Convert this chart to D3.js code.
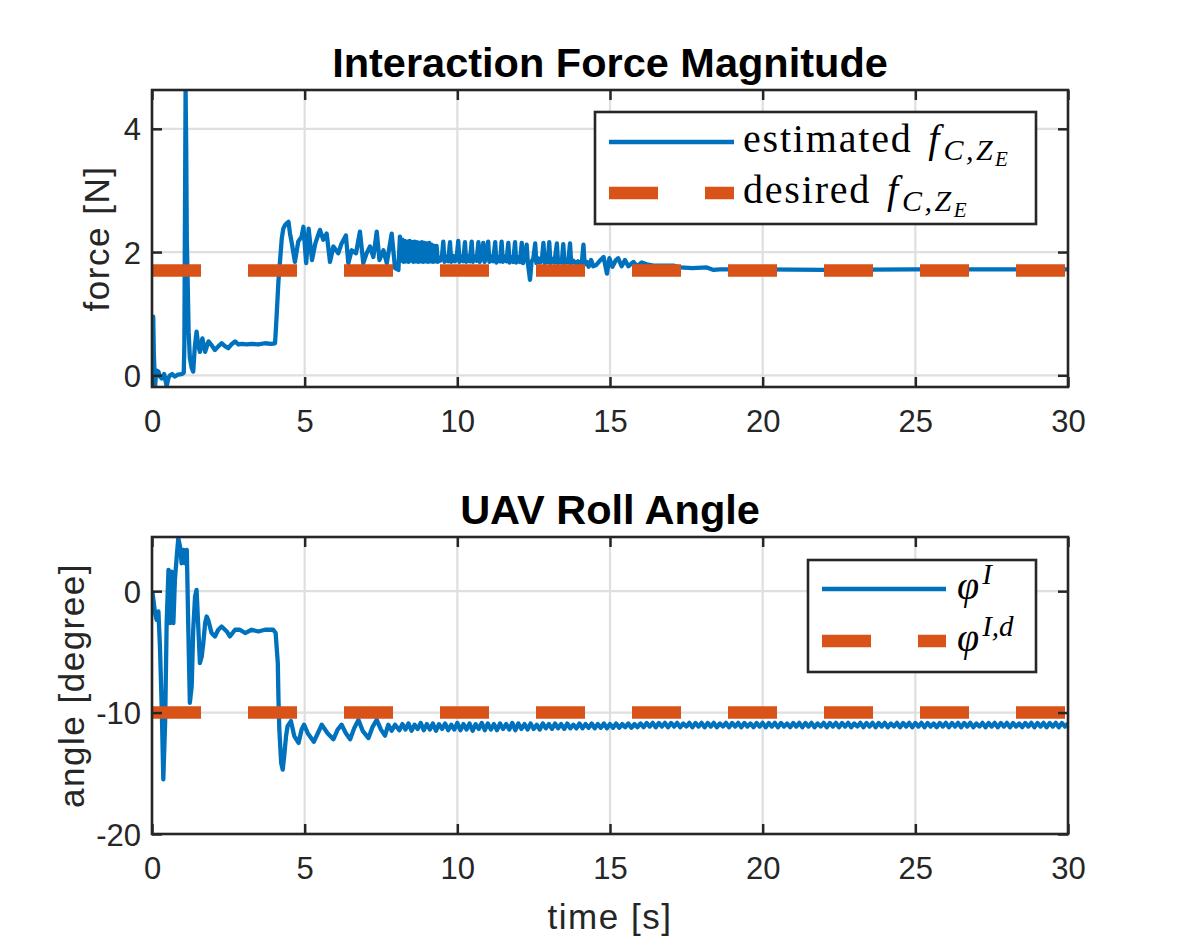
<!DOCTYPE html>
<html>
<head>
<meta charset="utf-8">
<script src="https://cdn.jsdelivr.net/npm/d3@7"></script>
<style>
  body { margin: 0; background: #fff; }
  svg { display: block; }
</style>
</head>
<body>
<svg id="fig" width="1181" height="945"></svg>
<script>
// ---- data -----------------------------------------------------------
const timeDomain = [0, 30];
const timeTicks  = [0, 5, 10, 15, 20, 25, 30];

// top panel: interaction force [N]
const forceDomain  = [-0.19, 4.63];
const forceTicks   = [0, 2, 4];
const forceDesired = 1.7;
const forceEstimated = [
  [0.00,0.17],[0.04,0.95],[0.06,0.35],[0.10,-0.18],[0.14,0.08],[0.21,0.06],[0.26,-0.02],[0.32,-0.05],
  [0.40,0.02],[0.48,-0.18],[0.54,-0.04],[0.59,0.0],[0.66,0.02],[0.75,-0.02],[0.85,0.01],[0.97,0.02],
  [1.04,0.04],[1.06,0.5],[1.08,2.6],[1.10,4.65],[1.12,3.7],[1.14,2.2],[1.17,1.47],[1.20,0.7],
  [1.24,0.28],[1.30,0.12],[1.35,0.06],[1.40,0.45],[1.46,0.71],[1.51,0.5],[1.57,0.38],[1.65,0.6],
  [1.74,0.38],[1.85,0.55],[1.95,0.49],[2.06,0.41],[2.17,0.47],[2.28,0.52],[2.40,0.47],[2.50,0.44],
  [2.60,0.5],[2.72,0.55],[2.83,0.5],[2.94,0.51],[3.10,0.5],[3.26,0.51],[3.48,0.5],[3.70,0.52],
  [3.90,0.51],[4.03,0.52],[4.08,0.95],[4.14,1.52],[4.20,1.9],[4.25,2.22],[4.30,2.38],[4.36,2.44],
  [4.42,2.47],[4.47,2.49],[4.52,2.3],[4.58,2.14],[4.68,1.84],[4.79,2.17],[4.90,2.25],[4.96,2.41],
  [5.05,1.82],[5.13,2.38],[5.24,1.87],[5.35,2.14],[5.50,2.36],[5.61,2.2],[5.72,2.3],[5.83,1.84],
  [5.94,2.09],[6.10,1.98],[6.21,2.14],[6.35,2.27],[6.43,1.82],[6.54,2.03],[6.68,1.98],[6.81,2.33],
  [6.92,1.82],[7.03,1.98],[7.14,2.09],[7.25,1.92],[7.36,2.33],[7.45,1.87],[7.58,2.03],[7.69,1.82],
  [7.85,2.30],[7.96,1.74],[8.07,1.71],[8.12,2.25],[8.16,1.86],[8.20,2.2],[8.24,1.84],[8.28,2.18],
  [8.32,1.85],[8.36,2.17],[8.40,1.84],[8.44,2.18],[8.48,1.86],[8.52,2.16],[8.56,1.84],[8.60,2.17],
  [8.64,1.85],[8.68,2.16],[8.72,1.84],[8.76,2.15],[8.80,1.85],[8.84,2.16],[8.88,1.84],[8.92,2.15],
  [8.96,1.85],[9.00,2.14],[9.04,1.84],[9.08,2.15],[9.12,1.85],[9.16,2.12],[9.20,1.84],[9.24,2.1],
  [9.28,1.85],[9.32,2.1],[9.36,1.84],[9.40,1.9],[9.44,1.86],[9.50,1.95],[9.54,2.17],[9.58,1.84],
  [9.64,1.93],[9.70,1.85],[9.76,2.16],[9.80,1.84],[9.86,1.94],[9.92,1.85],[9.98,1.92],[10.03,2.18],
  [10.07,1.84],[10.13,1.93],[10.19,1.85],[10.25,2.16],[10.29,1.84],[10.35,1.94],[10.41,1.85],[10.47,2.17],
  [10.51,1.84],[10.57,1.93],[10.63,1.86],[10.69,2.16],[10.73,1.84],[10.79,1.92],[10.85,2.15],[10.89,1.84],
  [10.95,1.92],[11.01,2.17],[11.05,1.84],[11.11,1.93],[11.17,1.85],[11.24,2.16],[11.28,1.83],[11.34,1.92],
  [11.40,1.85],[11.45,2.17],[11.49,1.84],[11.55,1.93],[11.61,1.85],[11.67,2.15],[11.71,1.83],[11.77,1.92],
  [11.83,1.84],[11.89,2.16],[11.93,1.83],[11.99,1.92],[12.05,1.84],[12.11,2.15],[12.15,1.82],[12.21,1.9],
  [12.27,2.12],[12.31,1.82],[12.38,1.55],[12.43,1.84],[12.49,1.9],[12.55,2.14],[12.59,1.82],[12.65,1.9],
  [12.71,1.83],[12.77,1.88],[12.82,2.15],[12.86,1.82],[12.92,1.9],[12.96,1.84],[13.01,2.16],[13.05,1.82],
  [13.11,1.89],[13.18,1.83],[13.26,2.14],[13.30,1.82],[13.36,1.88],[13.42,1.83],[13.47,2.13],[13.51,1.82],
  [13.57,1.88],[13.63,1.83],[13.69,2.14],[13.73,1.82],[13.80,1.86],[13.88,1.81],[13.95,1.85],[14.02,1.8],
  [14.08,1.84],[14.13,2.12],[14.17,1.8],[14.24,1.84],[14.30,1.76],[14.38,1.87],[14.45,1.77],[14.55,1.79],
  [14.65,1.85],[14.79,1.92],[14.90,1.65],[14.98,1.9],[15.08,1.76],[15.18,1.86],[15.27,1.90],[15.38,1.77],
  [15.49,1.87],[15.60,1.77],[15.77,1.84],[15.88,1.77],[16.04,1.83],[16.20,1.8],[16.42,1.78],[16.75,1.78],
  [17.08,1.78],[17.29,1.75],[17.70,1.74],[18.17,1.75],[18.39,1.71],[18.60,1.72],[20.0,1.72],[22.0,1.71],
  [25.0,1.72],[28.0,1.72],[30.0,1.72]
];

// bottom panel: roll angle [degree]
const rollDomain  = [-20, 4.46];
const rollTicks   = [-20, -10, 0];
const rollDesired = -10;
const rollTransient = [
  [0.01,0.0],[0.05,-0.8],[0.10,-1.81],[0.15,-2.36],[0.21,-1.67],[0.26,-4.54],[0.32,-9.75],[0.37,-15.5],
  [0.43,-10.85],[0.48,-2.63],[0.54,1.75],[0.59,-2.63],[0.64,1.61],[0.70,-2.63],[0.75,0.93],[0.81,2.85],
  [0.86,4.35],[0.92,3.67],[0.97,2.3],[1.03,3.4],[1.08,2.3],[1.14,3.4],[1.19,-3.18],[1.24,-9.2],
  [1.30,-7.84],[1.35,-3.18],[1.41,-0.44],[1.46,0.11],[1.52,-3.18],[1.57,-5.92],[1.63,-5.37],[1.68,-4.27],
  [1.74,-2.63],[1.79,-2.09],[1.84,-2.36],[1.95,-3.45],[2.06,-3.73],[2.17,-3.18],[2.28,-2.91],[2.45,-3.32],
  [2.55,-3.73],[2.72,-3.18],[2.88,-3.18],[3.05,-3.45],[3.26,-3.18],[3.48,-3.32],[3.70,-3.18],[3.97,-3.18],
  [4.05,-3.45],[4.12,-5.92],[4.14,-8.65],[4.17,-11.39],[4.23,-14.13],[4.28,-14.7],[4.33,-13.58],[4.39,-11.94],
  [4.44,-11.12],[4.55,-10.7],[4.66,-11.94],[4.80,-12.5],[4.90,-11.4],[4.98,-11.0],[5.10,-11.7],[5.30,-12.4],
  [5.45,-11.6],[5.56,-11.0],[5.75,-11.7],[5.94,-12.2],[6.08,-11.4],[6.21,-11.0],[6.35,-11.7],[6.49,-12.2],
  [6.62,-11.3],[6.76,-10.6],[6.90,-11.5],[7.09,-12.1],[7.22,-11.2],[7.36,-10.6],[7.50,-11.4],[7.63,-11.9],
  [7.74,-11.0],[7.85,-11.5],[7.96,-11.0]
];
// settled part, one sample every 0.1 s from 8.1 s
const rollTailStart = 8.1;
const rollTailStep  = 0.1;
const rollTail = [
  -11.45,-10.95,-11.4,-10.9,-11.5,-11.0,-11.35,-10.85,-11.45,-10.95,
  -11.4,-10.9,-11.5,-10.95,-11.35,-10.9,-11.45,-11.0,-11.4,-10.85,
  -11.45,-10.95,-11.4,-10.9,-11.5,-10.95,-11.35,-10.85,-11.45,-10.9,
  -11.4,-10.95,-11.45,-10.9,-11.35,-10.95,-11.4,-10.85,-11.45,-10.9,
  -11.35,-10.95,-11.4,-10.9,-11.35,-11.0,-11.4,-10.9,-11.3,-10.95,
  -11.35,-10.9,-11.3,-10.95,-11.35,-10.9,-11.3,-11.0,-11.3,-10.9,
  -11.3,-10.95,-11.25,-10.9,-11.3,-10.95,-11.25,-10.9,-11.3,-10.95,
  -11.25,-10.9,-11.25,-10.95,-11.2,-10.9,-11.25,-10.95,-11.2,-10.9,
  -11.2,-10.85,-11.15,-10.85,-11.2,-10.85,-11.15,-10.85,-11.2,-10.85,
  -11.15,-10.85,-11.2,-10.9,-11.15,-10.85,-11.2,-10.85,-11.15,-10.85,
  -11.2,-10.85,-11.15,-10.85,-11.2,-10.9,-11.15,-10.85,-11.2,-10.85,
  -11.15,-10.85,-11.2,-10.85,-11.15,-10.9,-11.2,-10.85,-11.15,-10.85,
  -11.2,-10.85,-11.15,-10.85,-11.2,-10.85,-11.15,-10.9,-11.2,-10.85,
  -11.15,-10.85,-11.2,-10.85,-11.15,-10.85,-11.2,-10.9,-11.15,-10.85,
  -11.2,-10.85,-11.15,-10.85,-11.2,-10.85,-11.15,-10.85,-11.2,-10.9,
  -11.15,-10.85,-11.2,-10.85,-11.15,-10.85,-11.2,-10.85,-11.15,-10.85,
  -11.2,-10.9,-11.15,-10.85,-11.2,-10.85,-11.15,-10.85,-11.2,-10.85,
  -11.15,-10.85,-11.2,-10.85,-11.15,-10.9,-11.2,-10.85,-11.15,-10.85,
  -11.2,-10.85,-11.15,-10.85,-11.2,-10.85,-11.15,-10.85,-11.2,-10.9,
  -11.15,-10.85,-11.2,-10.85,-11.15,-10.85,-11.2,-10.85,-11.15,-10.85,
  -11.2,-10.85,-11.15,-10.9,-11.2,-10.85,-11.15,-10.85,-11.2,-10.85,
  -11.15,-10.85,-11.2,-10.85,-11.15,-10.85,-11.2,-10.85,-11.15,-10.9
];
const rollMeasured = rollTransient.concat(rollTail.map((v, i) => [rollTailStart + i * rollTailStep, v]));

// ---- look ------------------------------------------------------------
const BLUE = "#0072BD", ORANGE = "#D95319", INK = "#262626", GRID = "#dfdfdf";
const SANS = "'Liberation Sans', Arial, sans-serif";
const SERIF = "'Liberation Serif', 'Times New Roman', serif";
const left = 152, right = 1068;

const svg = d3.select("#fig");

function panel({ top, bottom, yDomain, yTicks, title, titleY, ylabel, ylabelX, series, desired, id }) {
  const x = d3.scaleLinear().domain(timeDomain).range([left, right]);
  const y = d3.scaleLinear().domain(yDomain).range([bottom, top]);
  const g = svg.append("g");

  // grid
  g.append("g").selectAll("line").data(timeTicks).join("line")
    .attr("x1", d => x(d)).attr("x2", d => x(d)).attr("y1", top).attr("y2", bottom)
    .attr("stroke", GRID).attr("stroke-width", 2.2);
  g.append("g").selectAll("line").data(yTicks).join("line")
    .attr("x1", left).attr("x2", right).attr("y1", d => y(d)).attr("y2", d => y(d))
    .attr("stroke", GRID).attr("stroke-width", 2.2);

  // data, clipped to the axes box
  g.append("clipPath").attr("id", id).append("rect")
    .attr("x", left).attr("y", top).attr("width", right - left).attr("height", bottom - top);
  const plot = g.append("g").attr("clip-path", `url(#${id})`);
  plot.append("path").datum(series)
    .attr("d", d3.line().x(d => x(d[0])).y(d => y(d[1])))
    .attr("fill", "none").attr("stroke", BLUE).attr("stroke-width", 4.3)
    .attr("stroke-linejoin", "round");
  plot.append("line")
    .attr("x1", x(timeDomain[0])).attr("x2", x(timeDomain[1]))
    .attr("y1", y(desired)).attr("y2", y(desired))
    .attr("stroke", ORANGE).attr("stroke-width", 12.5).attr("stroke-dasharray", "49,47");

  // axes: inward ticks on all four sides
  const tk = 10;
  const fmt = d => String(d);
  const ax = g.append("g").attr("transform", `translate(0,${bottom})`)
    .call(d3.axisBottom(x).tickValues(timeTicks).tickFormat(fmt).tickSizeInner(-tk).tickSizeOuter(0).tickPadding(23));
  g.append("g").attr("transform", `translate(0,${top})`)
    .call(d3.axisTop(x).tickValues(timeTicks).tickSizeInner(-tk).tickSizeOuter(0).tickFormat(""));
  const ay = g.append("g").attr("transform", `translate(${left},0)`)
    .call(d3.axisLeft(y).tickValues(yTicks).tickFormat(fmt).tickSizeInner(-tk).tickSizeOuter(0).tickPadding(11));
  g.append("g").attr("transform", `translate(${right},0)`)
    .call(d3.axisRight(y).tickValues(yTicks).tickSizeInner(-tk).tickSizeOuter(0).tickFormat(""));
  g.selectAll(".domain").remove();
  g.selectAll(".tick line").attr("stroke", INK).attr("stroke-width", 2.5);
  g.selectAll(".tick text").attr("fill", INK).attr("font-family", SANS).attr("font-size", 31);
  ax.selectAll(".tick text").attr("dy", "0.71em");
  ay.selectAll(".tick text").attr("dy", "0.36em");

  g.append("rect")
    .attr("x", left).attr("y", top).attr("width", right - left).attr("height", bottom - top)
    .attr("fill", "none").attr("stroke", INK).attr("stroke-width", 2.6);

  g.append("text")
    .attr("x", (left + right) / 2).attr("y", titleY).attr("text-anchor", "middle")
    .attr("font-family", SANS).attr("font-weight", "bold").attr("font-size", 41.5)
    .attr("fill", "#000").text(title);

  g.append("text")
    .attr("transform", `translate(${ylabelX},${(top + bottom) / 2}) rotate(-90)`)
    .attr("text-anchor", "middle").attr("font-family", SANS).attr("font-size", 35)
    .attr("letter-spacing", 1.5).attr("fill", INK).text(ylabel);

  return g;
}

panel({
  top: 90, bottom: 387, yDomain: forceDomain, yTicks: forceTicks,
  title: "Interaction Force Magnitude", titleY: 77, ylabel: "force [N]", ylabelX: 109,
  series: forceEstimated, desired: forceDesired, id: "clip-force"
});
panel({
  top: 537, bottom: 834, yDomain: rollDomain, yTicks: rollTicks,
  title: "UAV Roll Angle", titleY: 524, ylabel: "angle [degree]", ylabelX: 84,
  series: rollMeasured, desired: rollDesired, id: "clip-roll"
});

svg.append("text")
  .attr("x", (left + right) / 2).attr("y", 929).attr("text-anchor", "middle")
  .attr("font-family", SANS).attr("font-size", 35).attr("letter-spacing", 1.5)
  .attr("fill", INK).text("time [s]");

// ---- legends (LaTeX-style labels) -------------------------------------
function legend({ x0, y0, w, h, lineX0, lineX1, rows, textX }) {
  const g = svg.append("g");
  g.append("rect").attr("x", x0).attr("y", y0).attr("width", w).attr("height", h)
    .attr("fill", "#fff").attr("stroke", INK).attr("stroke-width", 2.6);
  rows.forEach(r => {
    g.append("line").attr("x1", lineX0).attr("x2", lineX1).attr("y1", r.y).attr("y2", r.y)
      .attr("stroke", r.color).attr("stroke-width", r.width)
      .attr("stroke-dasharray", r.dash || null);
    const t = g.append("text").attr("x", textX).attr("y", r.y + 10)
      .attr("font-family", SERIF).attr("font-size", 40).attr("fill", "#000");
    r.parts.forEach(p => {
      t.append("tspan")
        .attr("font-style", p.italic ? "italic" : null)
        .attr("font-size", p.size || null)
        .attr("dy", p.dy || null)
        .attr("dx", p.dx || null)
        .attr("letter-spacing", p.ls || null)
        .text(p.s);
    });
  });
}

const fSub = [
  { s: "f", italic: true, dx: 4 },
  { s: "C,Z", italic: true, size: 30, dy: 8, dx: 4, ls: 2.5 },
  { s: "E", italic: true, size: 21, dy: 6 }
];
legend({
  x0: 595, y0: 112, w: 441, h: 112, lineX0: 609, lineX1: 734, textX: 743,
  rows: [
    { y: 142, color: BLUE, width: 4.3, parts: [{ s: "estimated ", ls: 1.8 }].concat(fSub) },
    { y: 193, color: ORANGE, width: 12.5, dash: "49,47", parts: [{ s: "desired ", ls: 1.8 }].concat(fSub) }
  ]
});
legend({
  x0: 808, y0: 560, w: 228, h: 112, lineX0: 822, lineX1: 946, textX: 957,
  rows: [
    { y: 589, color: BLUE, width: 4.3, parts: [{ s: "\u03C6", italic: true }, { s: "I", italic: true, size: 29, dy: -15, dx: 3 }] },
    { y: 641, color: ORANGE, width: 12.5, dash: "49,47", parts: [{ s: "\u03C6", italic: true }, { s: "I,d", italic: true, size: 29, dy: -15, dx: 3 }] }
  ]
});
</script>
</body>
</html>
